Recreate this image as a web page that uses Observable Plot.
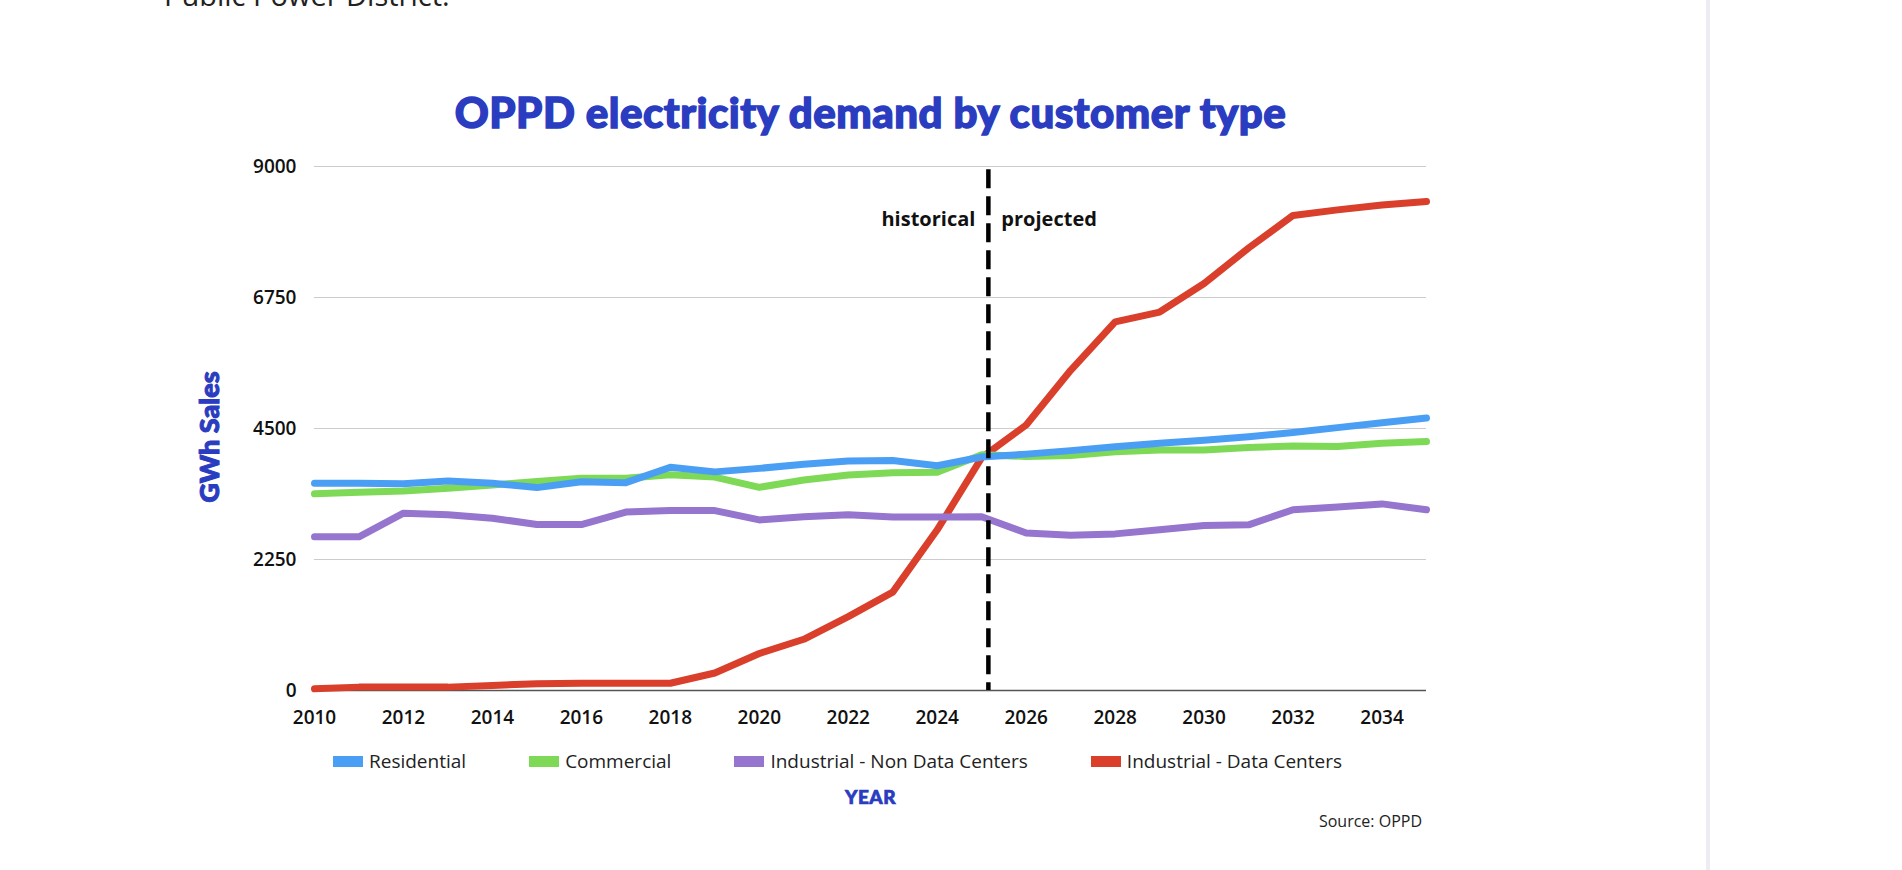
<!DOCTYPE html>
<html>
<head>
<meta charset="utf-8">
<script src="https://cdn.jsdelivr.net/npm/d3@7"></script>
<script src="https://cdn.jsdelivr.net/npm/@observablehq/plot@0.6"></script>
<style>
  html, body { margin: 0; padding: 0; background: #fff; overflow: hidden; }
  #page { position: relative; width: 1902px; height: 870px; overflow: hidden; background: #fff; }
  #intro { position: absolute; left: 164px; top: -20px; font: 400 29px/29px "Open Sans", sans-serif; color: #222; white-space: nowrap; }
  #title { position: absolute; left: 0; width: 1741px; top: 91px; text-align: center; font-family: Lato, sans-serif; font-weight: 900; font-size: 42px; line-height: 42px; letter-spacing: 0.5px; color: #2a3cc0; -webkit-text-stroke: 1.4px #2a3cc0; white-space: nowrap; }
  #chart { position: absolute; left: 0; top: 140px; }
  #ylabel { position: absolute; left: 209px; top: 437px; transform: translate(-50%, -50%) rotate(-90deg); font-family: Lato, sans-serif; font-weight: 900; font-size: 27px; line-height: 30px; color: #2a3cc0; -webkit-text-stroke: 1px #2a3cc0; white-space: nowrap; }
  #legend { position: absolute; left: 333px; top: 750px; display: flex; gap: 63px; align-items: center; font: 400 19px/22px "Open Sans", sans-serif; color: #222; white-space: nowrap; }
  .item { display: flex; align-items: center; gap: 6px; }
  .sw { width: 30px; height: 11px; display: inline-block; }
  #xlabel { position: absolute; left: 0; width: 1741px; top: 786px; text-align: center; font-family: Lato, sans-serif; font-weight: 900; font-size: 19px; line-height: 22px; color: #2a3cc0; letter-spacing: 0.5px; -webkit-text-stroke: 0.7px #2a3cc0; }
  #source { position: absolute; right: 480px; top: 810px; font: 400 16px/22px "Open Sans", sans-serif; color: #222; }
  #sidebar { position: absolute; left: 1706px; top: 0; width: 4px; height: 870px; background: #ececf2; }
</style>
</head>
<body>
<div id="page">
  <div id="intro">Public Power District.</div>
  <div id="title">OPPD electricity demand by customer type</div>
  <div id="chart"></div>
  <div id="ylabel">GWh Sales</div>
  <div id="legend"></div>
  <div id="xlabel">YEAR</div>
  <div id="source">Source: OPPD</div>
  <div id="sidebar"></div>
</div>
<script>
// ---- data ----
const years = [2010, 2011, 2012, 2013, 2014, 2015, 2016, 2017, 2018, 2019, 2020, 2021, 2022,
               2023, 2024, 2025, 2026, 2027, 2028, 2029, 2030, 2031, 2032, 2033, 2034, 2035];
const residential = [3560, 3560, 3550, 3600, 3560, 3485, 3585, 3570, 3835, 3755, 3815, 3885, 3940,
                     3950, 3860, 4010, 4060, 4120, 4185, 4245, 4300, 4360, 4430, 4515, 4600, 4680];
const commercial = [3378, 3405, 3425, 3475, 3530, 3590, 3645, 3645, 3705, 3665, 3490, 3615, 3700,
                    3740, 3750, 4050, 4020, 4035, 4100, 4130, 4130, 4175, 4200, 4190, 4245, 4275];
const industrialNonDataCenters = [2640, 2640, 3045, 3020, 2960, 2850, 2850, 3065, 3090, 3090, 2930, 2985, 3020,
                                  2980, 2980, 2985, 2705, 2665, 2690, 2760, 2835, 2845, 3105, 3150, 3205, 3105];
const industrialDataCenters = [30, 58, 58, 58, 87, 115, 125, 125, 125, 300, 635, 880, 1270,
                               1690, 2760, 4000, 4560, 5500, 6330, 6500, 6990, 7600, 8160, 8255, 8340, 8400];

const seriesNames = ["Residential", "Commercial", "Industrial - Non Data Centers", "Industrial - Data Centers"];
const seriesColors = ["#4a9ff5", "#7ed957", "#9575cd", "#d93f2b"];
const seriesValues = [residential, commercial, industrialNonDataCenters, industrialDataCenters];

const xTicks = [2010, 2012, 2014, 2016, 2018, 2020, 2022, 2024, 2026, 2028, 2030, 2032, 2034];
const yTicks = [0, 2250, 4500, 6750, 9000];
const boundaryYear = 2025.15;
const boundaryTop = 8945;
const phaseLabels = ["historical", "projected"];
const phaseLabelY = 8085;

// long table; draw data centers first so residential sits on top
const rows = [];
for (let s = seriesNames.length - 1; s >= 0; s--) {
  years.forEach((yr, i) => rows.push({series: seriesNames[s], year: yr, value: seriesValues[s][i]}));
}

const chart = Plot.plot({
  width: 1902,
  height: 600,
  marginLeft: 314,
  marginRight: 476,
  marginTop: 26,
  marginBottom: 50,
  style: {fontFamily: "'Open Sans', sans-serif", fontSize: "19px", fontWeight: 600, color: "#111", background: "transparent", overflow: "visible"},
  x: {domain: [2010, 2035], ticks: xTicks, tickFormat: d => String(d), tickSize: 0, tickPadding: 20, label: null},
  y: {domain: [0, 9000], ticks: yTicks, tickFormat: d => String(d), tickSize: 0, tickPadding: 18, label: null},
  color: {domain: seriesNames, range: seriesColors},
  marks: [
    Plot.gridY(yTicks, {stroke: "#cccccc", strokeOpacity: 1, strokeWidth: 1}),
    Plot.ruleY([0], {stroke: "#555", strokeWidth: 1.5}),
    Plot.line(rows, {x: "year", y: "value", z: "series", stroke: "series", strokeWidth: 7, strokeLinejoin: "round"}),
    Plot.ruleX([boundaryYear], {y1: boundaryTop, y2: 0, stroke: "#000", strokeWidth: 4.5, strokeDasharray: "19,8"}),
    Plot.text([phaseLabels[0]], {x: boundaryYear, y: phaseLabelY, text: d => d, textAnchor: "end", dx: -13, fontSize: 20, fontWeight: 700, fill: "#111"}),
    Plot.text([phaseLabels[1]], {x: boundaryYear, y: phaseLabelY, text: d => d, textAnchor: "start", dx: 13, fontSize: 20, fontWeight: 700, fill: "#111"})
  ]
});
document.getElementById("chart").appendChild(chart);

// legend
const legend = document.getElementById("legend");
seriesNames.forEach((name, i) => {
  const item = document.createElement("div");
  item.className = "item";
  const sw = document.createElement("span");
  sw.className = "sw";
  sw.style.background = seriesColors[i];
  const label = document.createElement("span");
  label.textContent = name;
  item.appendChild(sw);
  item.appendChild(label);
  legend.appendChild(item);
});
</script>
</body>
</html>
